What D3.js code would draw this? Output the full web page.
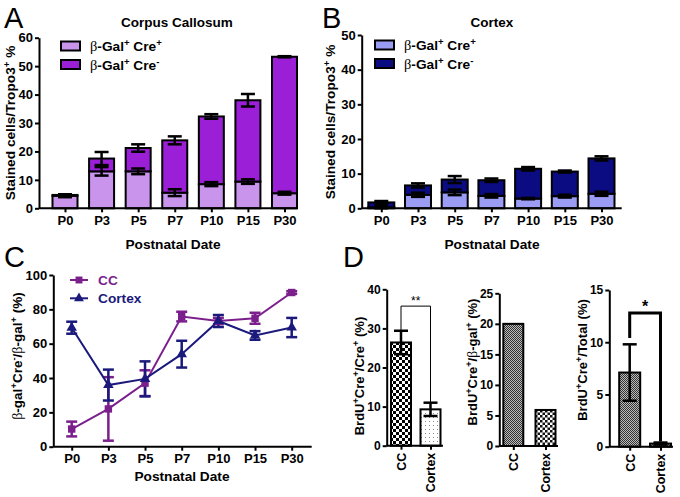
<!DOCTYPE html>
<html>
<head>
<meta charset="utf-8">
<script src="https://cdn.jsdelivr.net/npm/d3@7"></script>
<style>
  body { margin: 0; background: #fff; }
  text { font-family: "Liberation Sans", Arial, sans-serif; font-weight: bold; }
</style>
</head>
<body>
<script>
// ---------------- DATA ----------------
const categories = ["P0", "P3", "P5", "P7", "P10", "P15", "P30"];

// Panel A: Corpus Callosum (stacked: Cre+ bottom, total top)
const ccCrePos    = [4.4, 13.0, 13.0, 5.5, 8.5, 9.4, 5.3];
const ccCrePosErr = [0.5, 1.5, 1.0, 1.2, 0.7, 0.8, 0.5];
const ccTotal     = [4.7, 17.5, 21.2, 23.9, 32.3, 38.0, 53.3];
const ccTotalErr  = [0.2, 2.3, 1.3, 1.4, 0.8, 2.2, 0.2];

// Panel B: Cortex
const ctxCrePos    = [0.3, 3.9, 4.6, 3.6, 2.8, 3.5, 4.2];
const ctxCrePosErr = [0.3, 0.6, 0.8, 0.5, 0.2, 0.4, 0.6];
const ctxTotal     = [1.7, 6.6, 8.3, 8.1, 11.4, 10.6, 14.4];
const ctxTotalErr  = [0.4, 0.6, 1.0, 0.5, 0.5, 0.3, 0.6];

// Panel C: β-gal+Cre-/β-gal+ (%)
const cCC        = [10.3, 22.0, 37.0, 75.8, 73.2, 74.8, 89.8];
const cCCErr     = [4.3, 18.5, 7.5, 2.8, 1.8, 3.2, 0.8];
const cCortex    = [69.3, 35.9, 39.5, 53.9, 73.2, 64.8, 69.4];
const cCortexErr = [3.5, 9.0, 10.2, 7.8, 3.5, 2.5, 5.6];

// Panel D
const dGroups = ["CC", "Cortex"];
const d1Values = [26.4, 9.3];
const d1Err    = [3.0, 1.7];
const d2Values = [20.0, 5.9];
const d3Values = [7.1, 0.3];
const d3Err    = [2.7, 0.1];
const yTicksA = [0, 10, 20, 30, 40, 50, 60];
const yTicksB = [0, 10, 20, 30, 40, 50];
const yTicksC = [0, 20, 40, 60, 80, 100];
const yTicksD1 = [0, 10, 20, 30, 40];
const yTicksD2 = [0, 5, 10, 15, 20, 25];
const yTicksD3 = [0, 5, 10, 15];

// ---------------- DRAW ----------------
const W = 680, H = 497;
const svg = d3.select("body").append("svg").attr("width", W).attr("height", H);

const defs = svg.append("defs");
function checker(id, size, c1, c2) {
  const p = defs.append("pattern").attr("id", id).attr("patternUnits", "userSpaceOnUse")
    .attr("width", size * 2).attr("height", size * 2);
  p.append("rect").attr("width", size * 2).attr("height", size * 2).attr("fill", c2);
  p.append("rect").attr("width", size).attr("height", size).attr("fill", c1);
  p.append("rect").attr("x", size).attr("y", size).attr("width", size).attr("height", size).attr("fill", c1);
}
checker("chk3", 3, "#000", "#fff");
checker("chk2", 2.5, "#111", "#fff");
checker("fine", 1, "#333", "#bbb");
{
  const p = defs.append("pattern").attr("id", "dots").attr("patternUnits", "userSpaceOnUse")
    .attr("width", 4).attr("height", 4);
  p.append("rect").attr("width", 4).attr("height", 4).attr("fill", "#fff");
  p.append("rect").attr("x", 1).attr("y", 1).attr("width", 1).attr("height", 1).attr("fill", "#888");
}

const AXW = 2;
const FONT = "'Liberation Sans', Arial, sans-serif";

function yAxisDraw(g, y, ticks, x, fs) {
  const ax = g.append("g").attr("transform", `translate(${x},0)`)
    .call(d3.axisLeft(y).tickValues(ticks).tickSize(4).tickPadding(2).tickSizeOuter(0));
  ax.select(".domain").attr("stroke-width", AXW).attr("stroke", "#000");
  ax.selectAll(".tick line").attr("stroke-width", 2).attr("stroke", "#000");
  ax.selectAll(".tick text").style("font-size", fs + "px").style("font-weight", "bold")
    .style("font-family", FONT).attr("fill", "#000");
  return ax;
}

function xAxisDraw(g, x, y0, xl, xr, fs) {
  const ax = g.append("g").attr("transform", `translate(0,${y0})`)
    .call(d3.axisBottom(x).tickSize(4).tickPadding(3).tickSizeOuter(0));
  ax.select(".domain").remove();
  ax.append("line").attr("x1", xl).attr("x2", xr).attr("stroke", "#000").attr("stroke-width", AXW);
  ax.selectAll(".tick line").attr("stroke-width", 2).attr("stroke", "#000");
  ax.selectAll(".tick text").style("font-size", fs + "px").style("font-weight", "bold")
    .style("font-family", FONT).attr("fill", "#000");
  return ax;
}

function errBar(g, cx, y, v, e, cap, color, sw) {
  g.append("line").attr("x1", cx).attr("x2", cx).attr("y1", y(v + e)).attr("y2", y(v - e))
    .attr("stroke", color).attr("stroke-width", sw);
  [v + e, v - e].forEach(t => {
    g.append("line").attr("x1", cx - cap / 2).attr("x2", cx + cap / 2).attr("y1", y(t)).attr("y2", y(t))
      .attr("stroke", color).attr("stroke-width", sw);
  });
}

function supText(sel, parts) {
  parts.forEach(([t, type]) => {
    const ts = sel.append("tspan").text(t);
    if (type === "sup") ts.attr("baseline-shift", "super").style("font-size", "0.7em");
    if (type === "greek") ts.style("font-family", "'Liberation Serif', 'Times New Roman', serif").style("font-weight", "normal").style("font-size", "1.05em");
  });
}

function panelLetter(x, y, t) {
  svg.append("text").attr("x", x).attr("y", y).text(t)
    .style("font-size", "29px").style("font-weight", "normal").attr("fill", "#000");
}

function stackedPanel(opts) {
  const g = svg.append("g");
  const x = d3.scalePoint().domain(categories).range(opts.xr);
  const y = d3.scaleLinear().domain([0, opts.ymax]).range([opts.y0, opts.ytop]);
  const bw = opts.bw;
  categories.forEach((c, i) => {
    const cx = x(c);
    g.append("rect").attr("x", cx - bw / 2).attr("y", y(opts.pos[i])).attr("width", bw)
      .attr("height", y(0) - y(opts.pos[i])).attr("fill", opts.light).attr("stroke", "#000").attr("stroke-width", 2);
    g.append("rect").attr("x", cx - bw / 2).attr("y", y(opts.tot[i])).attr("width", bw)
      .attr("height", y(opts.pos[i]) - y(opts.tot[i])).attr("fill", opts.dark).attr("stroke", "#000").attr("stroke-width", 2);
  });
  categories.forEach((c, i) => {
    errBar(g, x(c), y, opts.tot[i], opts.totErr[i], 14, "#000", 2.5);
    errBar(g, x(c), y, opts.pos[i], opts.posErr[i], 14, "#000", 2.5);
  });
  yAxisDraw(g, y, opts.ticks, opts.xl, 13);
  xAxisDraw(g, x, opts.y0, opts.xl, opts.xe, 13);
  g.append("text").attr("x", opts.titleX).attr("y", 27).attr("text-anchor", "middle")
    .style("font-size", "13.5px").text(opts.title);
  g.append("text").attr("x", opts.xlabX).attr("y", 249).attr("text-anchor", "middle")
    .style("font-size", "13.7px").text("Postnatal Date");
  const yl = g.append("text").attr("transform", `translate(${opts.ylabX},${opts.ylabY}) rotate(-90)`)
    .attr("text-anchor", "middle").style("font-size", "13.7px");
  supText(yl, [["Stained cells/Tropo3", "n"], ["+", "sup"], [" %", "n"]]);
  const lg = g.append("g");
  [[opts.light, "+"], [opts.dark, "-"]].forEach(([col, s], k) => {
    const yy = opts.legY + k * 18.5;
    lg.append("rect").attr("x", opts.legX).attr("y", yy - 4.5).attr("width", 19).attr("height", 9)
      .attr("fill", col).attr("stroke", "#000").attr("stroke-width", 2);
    const t = lg.append("text").attr("x", opts.legX + 29).attr("y", yy + 5).style("font-size", "13.7px");
    supText(t, [["β", "greek"], ["-Gal", "n"], ["+", "sup"], [" Cre", "n"], [s, "sup"]]);
  });
}

// Panel A
stackedPanel({
  xr: [65, 284.5], bw: 25, ymax: 60, y0: 208.3, ytop: 37.7, xl: 39, xe: 297,
  pos: ccCrePos, posErr: ccCrePosErr, tot: ccTotal, totErr: ccTotalErr,
  light: "#c994ec", dark: "#9a1fd6", ticks: yTicksA,
  title: "Corpus Callosum", titleX: 177, xlabX: 173, ylabX: 15, ylabY: 123,
  legX: 61, legY: 46
});
// Panel B
stackedPanel({
  xr: [381.3, 601.5], bw: 26, ymax: 50, y0: 208.3, ytop: 35, xl: 361.7, xe: 621.7,
  pos: ctxCrePos, posErr: ctxCrePosErr, tot: ctxTotal, totErr: ctxTotalErr,
  light: "#9b9cf3", dark: "#0b0b82", ticks: yTicksB,
  title: "Cortex", titleX: 492, xlabX: 492, ylabX: 335, ylabY: 122,
  legX: 375, legY: 45
});

panelLetter(4, 28, "A");
panelLetter(322, 28, "B");
panelLetter(4, 267, "C");
panelLetter(343, 267, "D");

// Panel C
{
  const g = svg.append("g");
  const x = d3.scalePoint().domain(categories).range([71.7, 291.7]);
  const y = d3.scaleLinear().domain([0, 100]).range([446.7, 275]);
  const purple = "#7b1f8c", navy = "#1b1a7c";
  const line = d3.line().x((d, i) => x(categories[i])).y(d => y(d));
  const series = [
    { v: cCC, e: cCCErr, col: purple, shape: "square" },
    { v: cCortex, e: cCortexErr, col: navy, shape: "triangle" }
  ];
  series.forEach(s => {
    s.v.forEach((v, i) => errBar(g, x(categories[i]), y, v, s.e[i], 11, s.col, 2.5));
  });
  series.forEach(s => {
    g.append("path").datum(s.v).attr("d", line).attr("fill", "none").attr("stroke", s.col).attr("stroke-width", 2);
  });
  series.forEach(s => {
    const sym = d3.symbol().type(s.shape === "square" ? d3.symbolSquare : d3.symbolTriangle).size(s.shape === "square" ? 55 : 48);
    g.selectAll(null).data(s.v).enter().append("path").attr("d", sym)
      .attr("transform", (d, i) => `translate(${x(categories[i])},${y(d)})`).attr("fill", s.col);
  });
  yAxisDraw(g, y, yTicksC, 53.3, 13);
  xAxisDraw(g, x, 446.7, 53.3, 311.7, 13);
  g.append("text").attr("x", 182).attr("y", 481).attr("text-anchor", "middle").style("font-size", "13.7px").text("Postnatal Date");
  const yl = g.append("text").attr("transform", `translate(22,356) rotate(-90)`)
    .attr("text-anchor", "middle").style("font-size", "13.5px");
  supText(yl, [["β", "greek"], ["-gal", "n"], ["+", "sup"], ["Cre", "n"], ["-", "sup"], ["/", "n"], ["β", "greek"], ["-gal", "n"], ["+", "sup"], [" (%)", "n"]]);
  [["CC", purple, "square", 280], ["Cortex", navy, "triangle", 298.3]].forEach(([t, col, sh, yy]) => {
    g.append("line").attr("x1", 70).attr("x2", 88).attr("y1", yy).attr("y2", yy).attr("stroke", col).attr("stroke-width", 2);
    g.append("path").attr("d", d3.symbol().type(sh === "square" ? d3.symbolSquare : d3.symbolTriangle).size(sh === "square" ? 48 : 42))
      .attr("transform", `translate(79,${yy})`).attr("fill", col);
    g.append("text").attr("x", 98).attr("y", yy + 5).style("font-size", "13.7px").attr("fill", col).text(t);
  });
}

// Panel D
function dPanel(o) {
  const g = svg.append("g");
  const x = d3.scalePoint().domain(dGroups).range(o.xr);
  const y = d3.scaleLinear().domain([0, o.ymax]).range([o.y0, o.ytop]);
  dGroups.forEach((c, i) => {
    g.append("rect").attr("x", x(c) - o.bw / 2).attr("y", y(o.vals[i])).attr("width", o.bw)
      .attr("height", y(0) - y(o.vals[i])).attr("fill", `url(#${o.fills[i]})`).attr("stroke", "#000").attr("stroke-width", 2);
  });
  if (o.errs) dGroups.forEach((c, i) => {
    const v = o.vals[i], e = o.errs[i];
    g.append("line").attr("x1", x(c)).attr("x2", x(c)).attr("y1", y(v + e)).attr("y2", y(v - e)).attr("stroke", "#000").attr("stroke-width", 2.5);
    [v + e, v - e].forEach(t => g.append("line").attr("x1", x(c) - 7).attr("x2", x(c) + 7).attr("y1", y(t)).attr("y2", y(t)).attr("stroke", "#000").attr("stroke-width", 2.5));
  });
  yAxisDraw(g, y, o.ticks, o.xl, 12);
  const ax = g.append("g").attr("transform", `translate(0,${o.y0})`)
    .call(d3.axisBottom(x).tickSize(4).tickSizeOuter(0));
  ax.select(".domain").remove();
  ax.append("line").attr("x1", o.xl).attr("x2", o.xe).attr("stroke", "#000").attr("stroke-width", AXW);
  ax.selectAll(".tick line").attr("stroke-width", 2);
  ax.selectAll(".tick text").attr("transform", "rotate(-90)").attr("text-anchor", "end")
    .attr("x", -7).attr("y", 0).attr("dy", "0.35em")
    .style("font-size", "12.5px").style("font-weight", "bold").style("font-family", FONT);
  const yl = g.append("text").attr("transform", `translate(${o.ylabX},${o.ylabY}) rotate(-90)`)
    .attr("text-anchor", "middle").style("font-size", "13px");
  supText(yl, o.ylab);
  if (o.sig) {
    const s = o.sig, xa = x(dGroups[0]), xb = x(dGroups[1]);
    g.append("path").attr("d", `M${xa},${y(s.left)}V${y(s.y)}H${xb}V${y(s.right)}`)
      .attr("fill", "none").attr("stroke", "#000").attr("stroke-width", s.w);
    g.append("text").attr("x", (xa + xb) / 2).attr("y", y(s.y) - s.dy).attr("text-anchor", "middle")
      .style("font-size", s.fs + "px").style("font-weight", s.fw).text(s.label);
  }
}

dPanel({
  xr: [401, 430.5], bw: 20, ymax: 40, y0: 445.7, ytop: 289.3, xl: 386.7, xe: 443,
  vals: d1Values, errs: d1Err, fills: ["chk3", "dots"], ticks: yTicksD1,
  ylabX: 364, ylabY: 376,
  ylab: [["BrdU", "n"], ["+", "sup"], ["Cre", "n"], ["+", "sup"], ["/Cre", "n"], ["+", "sup"], [" (%)", "n"]],
  sig: { y: 35.7, left: 29.6, right: 11.2, label: "**", w: 1, fs: 12, fw: "normal", dy: 1 }
});
dPanel({
  xr: [513.3, 545.5], bw: 20, ymax: 25, y0: 446, ytop: 293.3, xl: 499.3, xe: 558,
  vals: d2Values, errs: null, fills: ["fine", "chk2"], ticks: yTicksD2,
  ylabX: 477, ylabY: 362,
  ylab: [["BrdU", "n"], ["+", "sup"], ["Cre", "n"], ["+", "sup"], ["/", "n"], ["β", "greek"], ["-gal", "n"], ["+", "sup"], [" (%)", "n"]]
});
dPanel({
  xr: [629.7, 660.5], bw: 21, ymax: 15, y0: 446.7, ytop: 290, xl: 609.3, xe: 673,
  vals: d3Values, errs: d3Err, fills: ["fine", "fine"], ticks: yTicksD3,
  ylabX: 587, ylabY: 360,
  ylab: [["BrdU", "n"], ["+", "sup"], ["Cre", "n"], ["+", "sup"], ["/Total (%)", "n"]],
  sig: { y: 12.8, left: 10.4, right: 0.5, label: "*", w: 3, fs: 16, fw: "bold", dy: 1 }
});
</script>
</body>
</html>
